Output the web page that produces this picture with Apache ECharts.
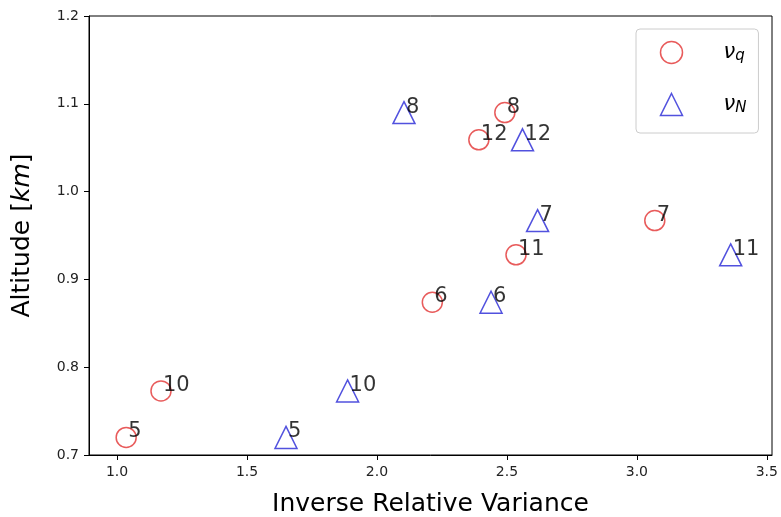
<!DOCTYPE html>
<html>
<head>
<meta charset="utf-8">
<script src="https://cdn.jsdelivr.net/npm/echarts@6/dist/echarts.min.js"></script>
<style>
  html, body { margin: 0; padding: 0; background: #fff; }
  #main { width: 781px; height: 517px; }
</style>
</head>
<body>
<div id="main"></div>
<script>
// altitude of each level and number of points used there
var altitude = [0.72, 0.773, 0.874, 0.928, 0.967, 1.059, 1.09];
var nPoints = [5, 10, 6, 11, 7, 12, 8];
// inverse relative variance for the two estimators
var irvQ = [1.035, 1.169, 2.213, 2.535, 3.069, 2.392, 2.492];
var irvN = [1.65, 1.887, 2.439, 3.361, 2.618, 2.56, 2.104];
var xTicks = [1.0, 1.5, 2.0, 2.5, 3.0, 3.5];

var redCol = '#e23232';
var blueCol = '#2626d6';
var font = 'DejaVu Sans';

function makeData(xs) {
    var out = [];
    for (var i = 0; i < xs.length; i++) {
        out.push([xs[i], altitude[i], nPoints[i]]);
    }
    return out;
}

var pointLabel = {
    show: true,
    position: 'inside',
    align: 'left',
    verticalAlign: 'bottom',
    offset: [2, 5],
    color: '#000',
    textBorderWidth: 0,
    fontSize: 21,
    fontFamily: font,
    formatter: function (p) { return p.value[2]; }
};

var myChart = echarts.init(document.getElementById('main'));
var option = {
    animation: false,
    grid: {
        left: 89, top: 16, right: 9, bottom: 62,
        outerBoundsMode: 'none',
        containLabel: false,
        show: true, borderColor: '#000', borderWidth: 1
    },
    legend: {
        orient: 'vertical',
        left: 636,
        top: 29,
        padding: [10, 12, 15, 22],
        itemGap: 25,
        itemWidth: 22,
        itemHeight: 22,
        borderColor: '#cccccc',
        borderWidth: 1,
        borderRadius: 4,
        data: [
            { name: 'q', icon: 'circle', itemStyle: { color: 'none', borderColor: redCol, borderWidth: 1.5 } },
            { name: 'N', icon: 'triangle', itemStyle: { color: 'none', borderColor: blueCol, borderWidth: 1.5 } }
        ],
        formatter: function (name) { return '{a|ν}{b|' + name + '}'; },
        textStyle: {
            rich: {
                a: { fontSize: 21, lineHeight: 22, fontFamily: font, fontStyle: 'italic', color: '#000', padding: [0, 0, 0, 36] },
                b: { fontSize: 15, lineHeight: 12, verticalAlign: 'bottom', fontFamily: font, fontStyle: 'italic', color: '#000' }
            }
        }
    },
    xAxis: {
        type: 'value',
        min: 0.892,
        max: 3.52,
        name: 'Inverse Relative Variance',
        nameLocation: 'middle',
        nameGap: 37,
        nameTextStyle: { fontSize: 25, fontFamily: font, color: '#000' },
        splitLine: { show: false },
        axisLine: { show: true, onZero: false, lineStyle: { color: '#000' } },
        axisTick: { show: true, length: 5, customValues: xTicks, lineStyle: { color: '#000' } },
        axisLabel: {
            customValues: xTicks,
            fontSize: 14, fontFamily: font, color: '#222', margin: 10,
            formatter: function (v) { return v.toFixed(1); }
        }
    },
    yAxis: {
        type: 'value',
        min: 0.7,
        max: 1.2,
        interval: 0.1,
        name: 'Altitude [{i|km}]',
        nameLocation: 'middle',
        nameGap: 54,
        nameRotate: 90,
        nameTextStyle: {
            fontSize: 25, fontFamily: font, color: '#000',
            rich: { i: { fontSize: 25, fontFamily: font, fontStyle: 'italic', color: '#000' } }
        },
        splitLine: { show: false },
        axisLine: { show: true, onZero: false, lineStyle: { color: '#000' } },
        axisTick: { show: true, length: 5, lineStyle: { color: '#000' } },
        axisLabel: {
            fontSize: 14, fontFamily: font, color: '#222', margin: 10,
            formatter: function (v) { return v.toFixed(1); }
        }
    },
    series: [
        {
            name: 'q',
            type: 'scatter',
            symbol: 'circle',
            symbolSize: 20,
            data: makeData(irvQ),
            itemStyle: { color: 'none', borderColor: redCol, borderWidth: 1.5 },
            label: pointLabel,
            z: 3
        },
        {
            name: 'N',
            type: 'scatter',
            symbol: 'triangle',
            symbolSize: [22, 22],
            data: makeData(irvN),
            itemStyle: { color: 'none', borderColor: blueCol, borderWidth: 1.5 },
            label: pointLabel,
            z: 3
        }
    ]
};
myChart.setOption(option);
</script>
</body>
</html>
